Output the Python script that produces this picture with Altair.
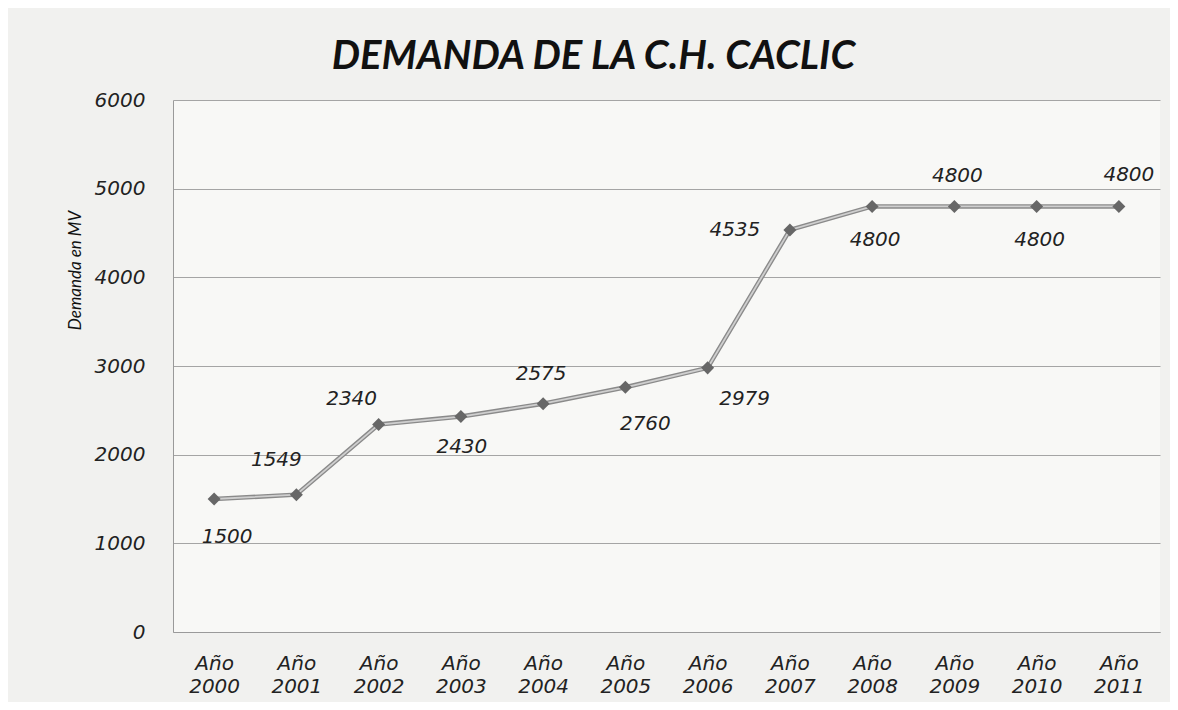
import altair as alt
import pandas as pd

years = ["Año 2000", "Año 2001", "Año 2002", "Año 2003", "Año 2004", "Año 2005",
         "Año 2006", "Año 2007", "Año 2008", "Año 2009", "Año 2010", "Año 2011"]
demand = [1500, 1549, 2340, 2430, 2575, 2760, 2979, 4535, 4800, 4800, 4800, 4800]

# label placement offsets (pixels) relative to each point
label_dx = [13, -20, -27, 1, -2, 20, 37, -55, 3, 3, 3, 10]
label_dy = [38, -35, -26, 30, -30, 37, 31, 0, 34, -30, 34, -31]

df = pd.DataFrame({"year": years, "demand": demand})

x = alt.X("year:N", sort=years, title=None,
          scale=alt.Scale(type="point", padding=0.5),
          axis=alt.Axis(labelExpr="split(datum.label, ' ')", labelAngle=0,
                        labelFont="DejaVu Sans", labelFontStyle="italic",
                        labelFontSize=20, labelColor="#222222", labelLineHeight=23,
                        labelPadding=21, ticks=False, domain=True,
                        domainColor="#9a9a9a", grid=False))
y = alt.Y("demand:Q", title="Demanda en MV",
          scale=alt.Scale(domain=[0, 6000]),
          axis=alt.Axis(values=[0, 1000, 2000, 3000, 4000, 5000, 6000], format="d",
                        labelFont="DejaVu Sans", labelFontStyle="italic",
                        labelFontSize=20, labelColor="#222222", labelPadding=28,
                        ticks=False, domain=True, domainColor="#9a9a9a",
                        grid=True, gridColor="#a5a5a5", gridWidth=1,
                        titleFont="Lato", titleFontStyle="italic",
                        titleFontWeight="normal",
                        titleFontSize=17, titleColor="#111111",
                        titleX=-98, titleY=170, titleAngle=-90,
                        titleAlign="center", titleBaseline="middle"))

base = alt.Chart(df)

line_outer = base.mark_line(color="#8a8a8a", strokeWidth=4.5).encode(x=x, y=y)
line_inner = base.mark_line(color="#cfcfcf", strokeWidth=1.8).encode(x=x, y=y)
points = base.mark_point(shape="diamond", filled=True, color="#676767",
                         size=170, opacity=1).encode(x=x, y=y)

label_layers = []
for yr, ddx, ddy in zip(years, label_dx, label_dy):
    label_layers.append(
        base.transform_filter(alt.datum.year == yr).mark_text(
            font="DejaVu Sans", fontStyle="italic", fontSize=20,
            color="#222222", dx=ddx, dy=ddy
        ).encode(x=x, y=y, text=alt.Text("demand:Q", format="d"))
    )

chart = alt.layer(line_outer, line_inner, points, *label_layers).properties(
    width=987, height=532,
    autosize=alt.AutoSizeParams(type="none"),
    padding={"left": 165, "top": 92, "right": 10, "bottom": 70},
    background="#f1f1ef",
    title=alt.Title("DEMANDA DE LA C.H. CACLIC", font="Lato", fontSize=40,
                    fontStyle="italic", fontWeight="bold", color="#111111",
                    anchor="middle", offset=13, dx=-73)
).configure_view(fill="#f8f8f6", stroke=None)

chart.save("out.html", embed_options={"renderer": "svg", "actions": False})
